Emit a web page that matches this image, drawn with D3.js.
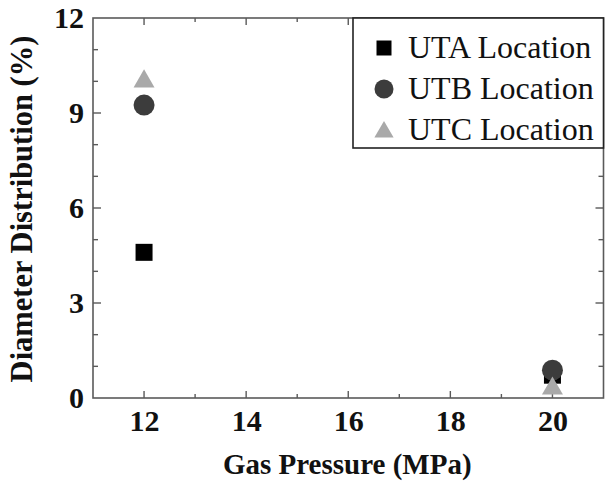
<!DOCTYPE html>
<html>
<head>
<meta charset="utf-8">
<script src="https://cdn.jsdelivr.net/npm/d3@7"></script>
</head>
<body style="margin:0">
<svg id="chart" width="605" height="482" font-family="Liberation Serif"></svg>
<script>
// Gas pressure (MPa) for each measurement
const pressures = [12, 20];
// Diameter distribution (%) at each location
const utaValues = [4.6, 0.72];
const utbValues = [9.25, 0.88];
const utcValues = [10.0, 0.3];
const seriesNames = ["UTA Location", "UTB Location", "UTC Location"];
const xTicks = [12, 14, 16, 18, 20];
const yTicks = [0, 3, 6, 9, 12];

const svg = d3.select("#chart");
const W = 605, H = 482;
const m = { left: 93, right: 1.5, top: 18, bottom: 84 };
const x = d3.scaleLinear().domain([11, 21]).range([m.left, W - m.right]);
const y = d3.scaleLinear().domain([0, 12]).range([H - m.bottom, m.top]);

const axisColor = "#5a5a5a";
const FONT = "Liberation Serif";

const series = [
  { name: seriesNames[0], values: utaValues, shape: d3.symbolSquare, size: 17 * 17, color: "#000000", lsize: 15 * 15 },
  { name: seriesNames[1], values: utbValues, shape: d3.symbolCircle, size: Math.PI * 10.5 * 10.5, color: "#3c3c3c", lsize: Math.PI * 9.5 * 9.5 },
  { name: seriesNames[2], values: utcValues, shape: d3.symbolTriangle, size: 190, color: "#a9a9a9", lsize: 160 }
];

// Frame
svg.append("rect")
  .attr("x", x(11)).attr("y", y(12))
  .attr("width", x(21) - x(11)).attr("height", y(0) - y(12))
  .attr("fill", "none").attr("stroke", axisColor).attr("stroke-width", 1.6);

// Inward ticks on all four sides
const xMinor = d3.range(12, 21, 1);
const yMinor = d3.range(1, 12, 1);
const ticks = svg.append("g").attr("stroke", axisColor).attr("stroke-width", 1.4);
xMinor.forEach(v => {
  const len = v % 2 === 0 ? 7 : 4;
  ticks.append("line").attr("x1", x(v)).attr("x2", x(v)).attr("y1", y(0)).attr("y2", y(0) - len);
  ticks.append("line").attr("x1", x(v)).attr("x2", x(v)).attr("y1", y(12)).attr("y2", y(12) + len);
});
yMinor.forEach(v => {
  const len = v % 3 === 0 ? 8 : 5;
  ticks.append("line").attr("y1", y(v)).attr("y2", y(v)).attr("x1", x(11)).attr("x2", x(11) + len);
  ticks.append("line").attr("y1", y(v)).attr("y2", y(v)).attr("x1", x(21)).attr("x2", x(21) - len);
});

// Tick labels
const xAxis = d3.axisBottom(x).tickValues(xTicks).tickSize(0).tickPadding(12).tickFormat(d3.format("d"));
const gx = svg.append("g").attr("transform", `translate(0,${y(0)})`).call(xAxis);
gx.select(".domain").remove();
gx.selectAll("text")
  .attr("font-family", FONT).attr("font-weight", "bold").attr("font-size", 30).attr("fill", "#111");

const yAxis = d3.axisLeft(y).tickValues(yTicks).tickSize(0).tickPadding(9).tickFormat(d3.format("d"));
const gy = svg.append("g").attr("transform", `translate(${x(11)},0)`).call(yAxis);
gy.select(".domain").remove();
gy.selectAll("text")
  .attr("font-family", FONT).attr("font-weight", "bold").attr("font-size", 30).attr("fill", "#111");

// Axis titles
svg.append("text")
  .attr("x", (x(11) + x(21)) / 2 - 1).attr("y", 474)
  .attr("text-anchor", "middle")
  .attr("font-family", FONT).attr("font-weight", "bold").attr("font-size", 29).attr("fill", "#111")
  .text("Gas Pressure (MPa)");
svg.append("text")
  .attr("transform", `translate(32,${(y(0) + y(12)) / 2 + 1}) rotate(-90)`)
  .attr("text-anchor", "middle")
  .attr("font-family", FONT).attr("font-weight", "bold").attr("font-size", 30.5).attr("fill", "#111")
  .text("Diameter Distribution (%)");

// Data markers
series.forEach(s => {
  svg.append("g").selectAll("path")
    .data(pressures.map((p, i) => ({ p, v: s.values[i] })))
    .join("path")
    .attr("transform", d => `translate(${x(d.p)},${y(d.v)})`)
    .attr("d", d3.symbol().type(s.shape).size(s.size)())
    .attr("fill", s.color);
});

// Legend
const lg = svg.append("g");
lg.append("rect")
  .attr("x", 353).attr("y", y(12))
  .attr("width", x(21) - 353).attr("height", 130)
  .attr("fill", "#fff").attr("stroke", "#222").attr("stroke-width", 1.6);
series.forEach((s, i) => {
  const cy = 48 + i * 41;
  lg.append("path")
    .attr("transform", `translate(384,${cy + (i === 2 ? 2 : 0)})`)
    .attr("d", d3.symbol().type(s.shape).size(s.lsize)())
    .attr("fill", s.color);
  lg.append("text")
    .attr("x", 408).attr("y", cy + 10)
    .attr("font-family", FONT).attr("font-size", 32).attr("fill", "#111")
    .text(s.name);
});
</script>
</body>
</html>
